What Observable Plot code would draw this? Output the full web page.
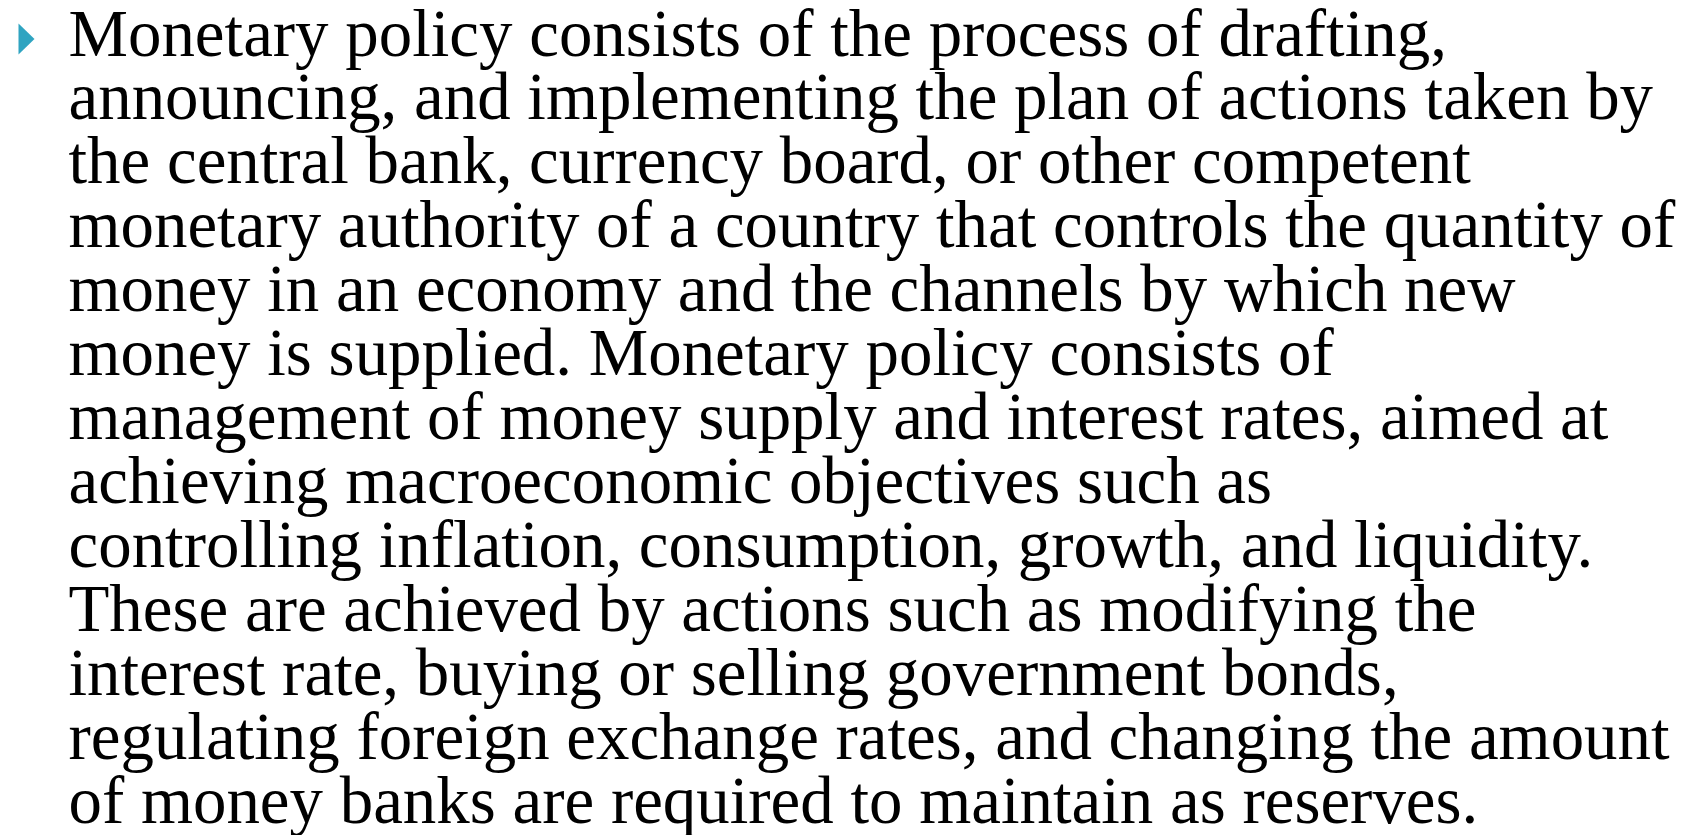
<!DOCTYPE html>
<html>
<head>
<meta charset="utf-8">
<script src="https://cdn.jsdelivr.net/npm/d3@7"></script>
<script src="https://cdn.jsdelivr.net/npm/@observablehq/plot@0.6"></script>
<style>
  html, body { margin: 0; padding: 0; background: #ffffff; }
  #chart svg { display: block; }
</style>
</head>
<body>
<div id="chart"></div>
<script>
// Text lines of the slide (one entry per rendered line)
const lines = [
  "Monetary policy consists of the process of drafting,",
  "announcing, and implementing the plan of actions taken by",
  "the central bank, currency board, or other competent",
  "monetary authority of a country that controls the quantity of",
  "money in an economy and the channels by which new",
  "money is supplied. Monetary policy consists of",
  "management of money supply and interest rates, aimed at",
  "achieving macroeconomic objectives such as",
  "controlling inflation, consumption, growth, and liquidity.",
  "These are achieved by actions such as modifying the",
  "interest rate, buying or selling government bonds,",
  "regulating foreign exchange rates, and changing the amount",
  "of money banks are required to maintain as reserves."
];
const bullets = [0]; // line index that carries a bullet

// Narrow right-pointing triangle bullet
const bulletSymbol = {
  draw(context, size) {
    const r = Math.sqrt(size / Math.PI); // r option
    context.moveTo(-r, -r * 1.94);
    context.lineTo(r, 0);
    context.lineTo(-r, r * 1.94);
    context.closePath();
  }
};

const chart = Plot.plot({
  width: 1700,
  height: 835,
  margin: 0,
  marginLeft: 68,
  style: { background: "#ffffff" },
  x: { axis: null },
  y: { axis: null, domain: [0, lines.length - 1], range: [55, 822] },
  marks: [
    Plot.text(lines, {
      y: (d, i) => i,
      text: d => d,
      frameAnchor: "left",
      textAnchor: "start",
      lineAnchor: "bottom",
      fontSize: 66.9,
      fontFamily: "'Liberation Serif', 'Times New Roman', serif",
      fill: "#000000"
    }),
    Plot.dot(bullets, {
      y: d => d,
      frameAnchor: "left",
      dx: -42,
      dy: -16.5,
      r: 8,
      symbol: bulletSymbol,
      fill: "#2FA4C1",
      stroke: "none"
    })
  ]
});
document.getElementById("chart").append(chart);
</script>
</body>
</html>
